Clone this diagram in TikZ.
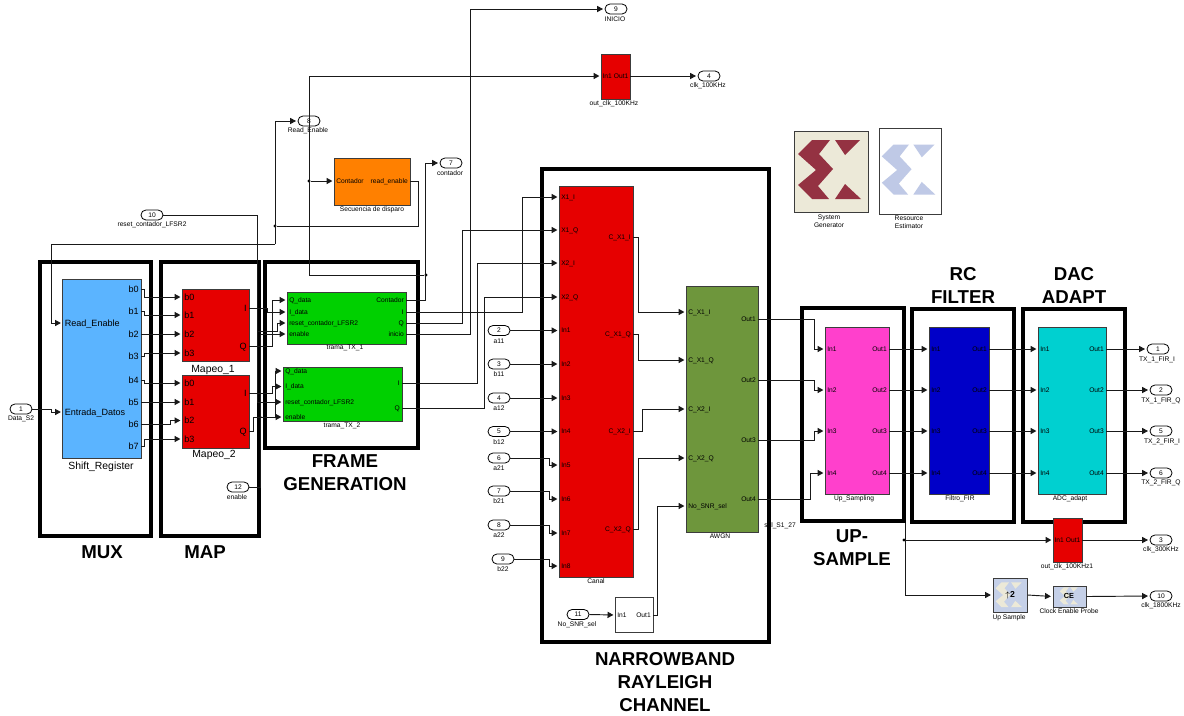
\documentclass[tikz,border=0pt]{standalone}
\usepackage{amsmath}
\usepackage{fontspec}
\setmainfont{Liberation Sans}
\usepackage{tikz}
\usepackage{xcolor}
\usetikzlibrary{positioning, arrows.meta, fit}

\tikzset{
  wire/.style={draw={rgb, 255:red, 25; green, 25; blue, 25 },line width=0.7pt},
  arr/.style={wire,-{Triangle[length=4.4pt,width=4.6pt]},shorten >=1.2pt},
  frameb/.style={draw=black,line width=2.6pt,inner sep=0pt},
  blockb/.style={draw={rgb, 255:red, 60; green, 60; blue, 60 },line width=0.75pt,inner sep=0pt},
  portin/.style={anchor=west,inner xsep=1.5pt,inner ysep=0pt,text height=3.6pt,text depth=0.4pt,font=\fontsize{5}{6}\selectfont},
  portout/.style={anchor=east,inner xsep=1.5pt,inner ysep=0pt,text height=3.6pt,text depth=0.4pt,font=\fontsize{5}{6}\selectfont},
  portinb/.style={portin,text height=5pt,font=\fontsize{6.8}{8}\selectfont},
  portoutb/.style={portout,text height=5pt,font=\fontsize{6.8}{8}\selectfont},
  oval/.style={draw=black,line width=0.6pt,rounded corners=3.7pt,minimum width=16.5pt,minimum height=7.5pt,inner sep=0pt,font=\fontsize{5}{6}\selectfont},
  lbl/.style={inner sep=0pt,font=\fontsize{5}{6}\selectfont},
  lblb/.style={inner sep=0pt,font=\fontsize{7.8}{9}\selectfont},
  title/.style={inner sep=0pt,align=center,font=\fontsize{14}{17.25}\selectfont\bfseries},
  dot/.style={circle,fill=black,inner sep=0pt,minimum size=2.4pt},
  xlogo/.pic={
    \fill [#1] (-18,-29) -- (-1,-29) -- (-12,-16) -- (3,1) -- (-11,16) -- (0,30) -- (-18,30) -- (-32,16) -- (-14,0) -- (-32,-15) -- cycle;
    \fill [#1] (5,-29) -- (31,-29) -- (15,-14) -- cycle;
    \fill [#1] (15,15) -- (30,30) -- (5,30) -- cycle;
  }
}
\definecolor{xred}{RGB}{148,50,66}
\definecolor{xblue}{RGB}{191,201,230}
\definecolor{xcream}{RGB}{236,233,216}
\definecolor{xpale}{RGB}{197,208,232}

\begin{document}
\begin{tikzpicture}[x=0.75pt,y=0.75pt,yscale=-1,xscale=1]
\useasboundingbox (0,0) rectangle (1184,715);

%Group frames
\node (fr_mux) [frameb,fit={(40,262) (151,536)}] {};
\node (fr_map) [frameb,fit={(161,262) (259,536)}] {};
\node (fr_gen) [frameb,fit={(265,262) (418,448)}] {};
\node (fr_chan) [frameb,fit={(542,169) (769,642)}] {};
\node (fr_up) [frameb,fit={(802,308) (904,521)}] {};
\node (fr_fir) [frameb,fit={(912,309) (1014,522)}] {};
\node (fr_dac) [frameb,fit={(1023,309) (1125,522)}] {};

%Blocks
\node (sreg) [blockb,fill={rgb, 255:red, 91; green, 180; blue, 255 },fit={(62.5,279) (141,458)}] {};
\node (map_a) [blockb,fill={rgb, 255:red, 230; green, 0; blue, 0 },fit={(182,289) (249,361)}] {};
\node (map_b) [blockb,fill={rgb, 255:red, 230; green, 0; blue, 0 },fit={(182,375) (249,448)}] {};
\node (tx_a) [blockb,fill={rgb, 255:red, 0; green, 208; blue, 0 },fit={(287,292) (406,344)}] {};
\node (tx_b) [blockb,fill={rgb, 255:red, 0; green, 208; blue, 0 },fit={(283,367) (402,421)}] {};
\node (seq) [blockb,fill={rgb, 255:red, 255; green, 128; blue, 0 },fit={(334,158) (410,205)}] {};
\node (clk_a) [blockb,fill={rgb, 255:red, 230; green, 0; blue, 0 },fit={(601,54) (630,99)}] {};
\node (canal) [blockb,fill={rgb, 255:red, 230; green, 0; blue, 0 },fit={(559,186) (633,577)}] {};
\node (awgn) [blockb,fill={rgb, 255:red, 110; green, 150; blue, 60 },fit={(686,286) (758,532)}] {};
\node (snr) [blockb,fill=white,fit={(615,597) (653,632)}] {};
\node (upsamp) [blockb,fill={rgb, 255:red, 255; green, 64; blue, 204 },fit={(825,327) (889,494)}] {};
\node (fir) [blockb,fill={rgb, 255:red, 0; green, 0; blue, 200 },fit={(929,327) (989,494)}] {};
\node (adc) [blockb,fill={rgb, 255:red, 0; green, 208; blue, 208 },fit={(1038,327) (1106,494)}] {};
\node (clk_b) [blockb,fill={rgb, 255:red, 230; green, 0; blue, 0 },fit={(1053,518) (1082,562)}] {};
\node (xup) [blockb,fill=xpale,fit={(993,578) (1027,612)}] {};
\node (xce) [blockb,fill=xpale,fit={(1053,586) (1086,607)}] {};
\node (sysgen) [blockb,fill=xcream,fit={(794,131) (868,212)}] {};
\node (resest) [blockb,fill=white,fit={(879,128) (941,214)}] {};

%Logos
\pic at (830,170) {xlogo=xred};
\pic [scale=0.85] at (909,170) {xlogo=xblue};
\pic [scale=0.42] at (1009,595) {xlogo=xcream};
\pic [scale=0.29] at (1069,596) {xlogo=xcream};

% Text Node
\node (sr_re) [portinb] at (62.5,323) {Read\_Enable};
\node (sr_ed) [portinb] at (62.5,412) {Entrada\_Datos};
\node (sr_b0) [portoutb] at (141,289) {b0};
\node (sr_b1) [portoutb] at (141,311) {b1};
\node (sr_b2) [portoutb] at (141,334) {b2};
\node (sr_b3) [portoutb] at (141,356) {b3};
\node (sr_b4) [portoutb] at (141,380) {b4};
\node (sr_b5) [portoutb] at (141,402) {b5};
\node (sr_b6) [portoutb] at (141,424) {b6};
\node (sr_b7) [portoutb] at (141,446) {b7};
\node (ma_b0) [portinb] at (182,297) {b0};
\node (ma_b1) [portinb] at (182,315) {b1};
\node (ma_b2) [portinb] at (182,334) {b2};
\node (ma_b3) [portinb] at (182,353) {b3};
\node (ma_i) [portoutb] at (249,308) {I};
\node (ma_q) [portoutb] at (249,346) {Q};
\node (mb_b0) [portinb] at (182,383) {b0};
\node (mb_b1) [portinb] at (182,402) {b1};
\node (mb_b2) [portinb] at (182,420.5) {b2};
\node (mb_b3) [portinb] at (182,439) {b3};
\node (mb_i) [portoutb] at (249,393.5) {I};
\node (mb_q) [portoutb] at (249,431) {Q};
\node (ta_qd) [portin] at (287,300) {Q\_data};
\node (ta_id) [portin] at (287,312) {I\_data};
\node (ta_rs) [portin] at (287,323) {reset\_contador\_LFSR2};
\node (ta_en) [portin] at (287,334) {enable};
\node (ta_co) [portout] at (406,300) {Contador};
\node (ta_i) [portout] at (406,312) {I};
\node (ta_q) [portout] at (406,323) {Q};
\node (ta_in) [portout] at (406,334) {inicio};
\node (tb_qd) [portin] at (283,371) {Q\_data};
\node (tb_id) [portin] at (283,386.5) {I\_data};
\node (tb_rs) [portin] at (283,402) {reset\_contador\_LFSR2};
\node (tb_en) [portin] at (283,417) {enable};
\node (tb_i) [portout] at (402,383) {I};
\node (tb_q) [portout] at (402,408.5) {Q};
\node (sq_co) [portin] at (334,181) {Contador};
\node (sq_re) [portout] at (410,181) {read\_enable};
\node (ca_in) [portin,inner xsep=1pt] at (601,76) {In1};
\node (ca_out) [portout,inner xsep=1pt] at (630,76) {Out1};
\node (cb_in) [portin,inner xsep=1pt] at (1053,540) {In1};
\node (cb_out) [portout,inner xsep=1pt] at (1082,540) {Out1};
\node (cn_x1i) [portin] at (559,197) {X1\_I};
\node (cn_x1q) [portin] at (559,230) {X1\_Q};
\node (cn_x2i) [portin] at (559,263) {X2\_I};
\node (cn_x2q) [portin] at (559,297) {X2\_Q};
\node (cn_in1) [portin] at (559,330.5) {In1};
\node (cn_in2) [portin] at (559,364) {In2};
\node (cn_in3) [portin] at (559,398) {In3};
\node (cn_in4) [portin] at (559,431.5) {In4};
\node (cn_in5) [portin] at (559,465) {In5};
\node (cn_in6) [portin] at (559,499) {In6};
\node (cn_in7) [portin] at (559,533) {In7};
\node (cn_in8) [portin] at (559,566) {In8};
\node (cn_o1) [portout] at (633,237) {C\_X1\_I};
\node (cn_o2) [portout] at (633,334) {C\_X1\_Q};
\node (cn_o3) [portout] at (633,431) {C\_X2\_I};
\node (cn_o4) [portout] at (633,529) {C\_X2\_Q};
\node (aw_i1) [portin] at (686,312) {C\_X1\_I};
\node (aw_i2) [portin] at (686,360) {C\_X1\_Q};
\node (aw_i3) [portin] at (686,409) {C\_X2\_I};
\node (aw_i4) [portin] at (686,458) {C\_X2\_Q};
\node (aw_sn) [portin] at (686,506) {No\_SNR\_sel};
\node (aw_o1) [portout] at (758,319) {Out1};
\node (aw_o2) [portout] at (758,380) {Out2};
\node (aw_o3) [portout] at (758,440) {Out3};
\node (aw_o4) [portout] at (758,499) {Out4};
\node (sn_in) [portin] at (615,615) {In1};
\node (sn_out) [portout] at (653,615) {Out1};
\node (us_i1) [portin] at (825,349) {In1};
\node (us_i2) [portin] at (825,390) {In2};
\node (us_i3) [portin] at (825,431) {In3};
\node (us_i4) [portin] at (825,473) {In4};
\node (us_o1) [portout] at (889,349) {Out1};
\node (us_o2) [portout] at (889,390) {Out2};
\node (us_o3) [portout] at (889,431) {Out3};
\node (us_o4) [portout] at (889,473) {Out4};
\node (fi_i1) [portin] at (929,349) {In1};
\node (fi_i2) [portin] at (929,390) {In2};
\node (fi_i3) [portin] at (929,431) {In3};
\node (fi_i4) [portin] at (929,473) {In4};
\node (fi_o1) [portout] at (989,349) {Out1};
\node (fi_o2) [portout] at (989,390) {Out2};
\node (fi_o3) [portout] at (989,431) {Out3};
\node (fi_o4) [portout] at (989,473) {Out4};
\node (ad_i1) [portin] at (1038,349) {In1};
\node (ad_i2) [portin] at (1038,390) {In2};
\node (ad_i3) [portin] at (1038,431) {In3};
\node (ad_i4) [portin] at (1038,473) {In4};
\node (ad_o1) [portout] at (1106,349) {Out1};
\node (ad_o2) [portout] at (1106,390) {Out2};
\node (ad_o3) [portout] at (1106,431) {Out3};
\node (ad_o4) [portout] at (1106,473) {Out4};
\node (xu_txt) [inner sep=0pt,font=\fontsize{6.5}{8}\selectfont\bfseries] at (1010,595) {$\uparrow$2};
\node (xc_txt) [inner sep=0pt,font=\fontsize{5.5}{7}\selectfont\bfseries] at (1069,596) {CE};

%Ports
\node (in_data) [oval] at (21,409) {1};
\node (in_a11) [oval] at (499,330.5) {2};
\node (in_b11) [oval] at (499,364) {3};
\node (in_a12) [oval] at (499,398) {4};
\node (in_b12) [oval] at (499,431.5) {5};
\node (in_a21) [oval] at (499,458) {6};
\node (in_b21) [oval] at (499,491) {7};
\node (in_a22) [oval] at (499,525) {8};
\node (in_b22) [oval] at (503,559) {9};
\node (in_rst) [oval] at (152,215) {10};
\node (in_snr) [oval] at (578,614.5) {11};
\node (in_en) [oval] at (238,487) {12};
\node (ou_read) [oval] at (309,121) {8};
\node (ou_cont) [oval] at (451,163) {7};
\node (ou_ini) [oval] at (616,9) {9};
\node (ou_c100) [oval] at (709,76) {4};
\node (ou_t1i) [oval] at (1158,349) {1};
\node (ou_t1q) [oval] at (1161,390) {2};
\node (ou_t2i) [oval] at (1161,431) {5};
\node (ou_t2q) [oval] at (1161,473) {6};
\node (ou_c300) [oval] at (1161,540) {3};
\node (ou_c18) [oval] at (1161,596) {10};

%Junctions
\node (jn_seq) [dot] at (309,181) {};
\node (jn_ini) [dot] at (426,275) {};
\node (jn_read) [dot] at (275,226) {};
\node (jn_clk) [dot] at (904,540) {};
\node (jn_en) [dot] at (260,417) {};
\coordinate (rd_c) at (275,244);
\coordinate (rs_c) at (257,331);

% Text Node
\node (lb_sreg) [lblb] at (101,467) {Shift\_Register};
\node (lb_ma) [lblb] at (213,370) {Mapeo\_1};
\node (lb_mb) [lblb] at (214,455) {Mapeo\_2};
\node (lb_ta) [lbl] at (345,348) {trama\_TX\_1};
\node (lb_tb) [lbl] at (342,426) {trama\_TX\_2};
\node (lb_seq) [lbl] at (372,210) {Secuencia de disparo};
\node (lb_ca) [lbl] at (614,104) {out\_clk\_100KHz};
\node (lb_canal) [lbl] at (596,581) {Canal};
\node (lb_awgn) [lbl] at (720,536) {AWGN};
\node (lb_sal) [lbl] at (780,526) {sal\_S1\_27};
\node (lb_us) [lbl] at (854,499) {Up\_Sampling};
\node (lb_fi) [lbl] at (960,499) {Filtro\_FIR};
\node (lb_ad) [lbl] at (1070,499) {ADC\_adapt};
\node (lb_cb) [lbl] at (1067,567) {out\_clk\_100KHz1};
\node (lb_xu) [lbl] at (1009,618) {Up Sample};
\node (lb_xc) [lbl] at (1069,611) {Clock Enable Probe};
\node (lb_sys) [lbl,align=center] at (829,221.5) {System\\Generator};
\node (lb_res) [lbl,align=center] at (909,222.5) {Resource\\Estimator};
\node (lb_data) [lbl] at (21,419) {Data\_S2};
\node (lb_a11) [lbl] at (499,341) {a11};
\node (lb_b11) [lbl] at (499,374.5) {b11};
\node (lb_a12) [lbl] at (499,408) {a12};
\node (lb_b12) [lbl] at (499,442) {b12};
\node (lb_a21) [lbl] at (499,468.5) {a21};
\node (lb_b21) [lbl] at (499,501) {b21};
\node (lb_a22) [lbl] at (499,535.5) {a22};
\node (lb_b22) [lbl] at (503,569) {b22};
\node (lb_rst) [lbl] at (152,225) {reset\_contador\_LFSR2};
\node (lb_snr) [lbl] at (577,625) {No\_SNR\_sel};
\node (lb_en) [lbl] at (237,497) {enable};
\node (lb_read) [lbl] at (308,131) {Read\_Enable};
\node (lb_cont) [lbl] at (450,173) {contador};
\node (lb_ini) [lbl] at (615,19.5) {INICIO};
\node (lb_c100) [lbl] at (708,86) {clk\_100KHz};
\node (lb_t1i) [lbl] at (1157,359.5) {TX\_1\_FIR\_I};
\node (lb_t1q) [lbl] at (1161,400.5) {TX\_1\_FIR\_Q};
\node (lb_t2i) [lbl] at (1162,441.5) {TX\_2\_FIR\_I};
\node (lb_t2q) [lbl] at (1161,482.5) {TX\_2\_FIR\_Q};
\node (lb_c300) [lbl] at (1161,550) {clk\_300KHz};
\node (lb_c18) [lbl] at (1161,606) {clk\_1800KHz};

\node (tt_mux) [title] at (102,552) {MUX};
\node (tt_map) [title] at (205,552) {MAP};
\node (tt_gen) [title] at (345,472.5) {FRAME\\GENERATION};
\node (tt_chan) [title] at (665,682) {NARROWBAND\\RAYLEIGH\\CHANNEL};
\node (tt_up) [title] at (852,547.5) {UP-\\SAMPLE};
\node (tt_fir) [title] at (963,285) {RC\\FILTER};
\node (tt_dac) [title] at (1074,285) {DAC\\ADAPT};

%Straight Lines
\draw [arr] (in_data.east) -- (51,409) |- (sr_ed.west);
\draw [arr] (sr_b0.east) -- (144,289) |- (ma_b0.west);
\draw [arr] (sr_b1.east) -- (144,311) |- (ma_b1.west);
\draw [arr] (sr_b2.east) -- (ma_b2.west);
\draw [arr] (sr_b3.east) -- (144,356) |- (ma_b3.west);
\draw [arr] (sr_b4.east) -- (144,380) |- (mb_b0.west);
\draw [arr] (sr_b5.east) -- (mb_b1.west);
\draw [arr] (sr_b6.east) -- (170,424) |- (mb_b2.west);
\draw [arr] (sr_b7.east) -- (144,446) |- (mb_b3.west);

%Straight Lines
\draw [arr] (ma_i.east) -- (267,308) |- (ta_id.west);
\draw [arr] (ma_q.east) -- (272,346) |- (ta_qd.west);
\draw [arr] (mb_i.east) -- (272,393.5) |- (tb_id.west);
\draw [arr] (mb_q.east) -- (253,431) |- (275,417) |- (tb_qd.west);
\draw [arr] (in_rst.east) -- (257,215) |- (tb_rs.west);
\draw [arr] (rs_c) -- (277,331) |- (ta_rs.west);
\draw [arr] (in_en.east) -- (260,487) |- (ta_en.west);
\draw [arr] (jn_en) -- (tb_en.west);

%Straight Lines
\draw [arr] (rd_c) |- (ou_read.west);
\draw [arr] (rd_c) -- (51,244) |- (sr_re.west);
\draw [wire] (sq_re.east) -- (418,181) |- (jn_read);
\draw [arr] (jn_seq) -- (sq_co.west);
\draw [arr] (jn_ini) -- (309,275) |- (ca_in.west);
\draw [arr] (ca_out.east) -- (ou_c100.west);
\draw [arr] (ta_co.east) -- (425,300) |- (ou_cont.west);
\draw [arr] (ta_in.east) -- (470,334) |- (ou_ini.west);

%Straight Lines
\draw [arr] (ta_i.east) -- (522,312) |- (cn_x1i.west);
\draw [arr] (ta_q.east) -- (462,323) |- (cn_x1q.west);
\draw [arr] (tb_i.east) -- (477,383) |- (cn_x2i.west);
\draw [arr] (tb_q.east) -- (484,408.5) |- (cn_x2q.west);
\draw [arr] (in_a11.east) -- (cn_in1.west);
\draw [arr] (in_b11.east) -- (cn_in2.west);
\draw [arr] (in_a12.east) -- (cn_in3.west);
\draw [arr] (in_b12.east) -- (cn_in4.west);
\draw [arr] (in_a21.east) -- (549,458) |- (cn_in5.west);
\draw [arr] (in_b21.east) -- (549,491) |- (cn_in6.west);
\draw [arr] (in_a22.east) -- (549,525) |- (cn_in7.west);
\draw [arr] (in_b22.east) -- (549,559) |- (cn_in8.west);

%Straight Lines
\draw [arr] (cn_o1.east) -- (638,237) |- (aw_i1.west);
\draw [arr] (cn_o2.east) -- (638,334) |- (aw_i2.west);
\draw [arr] (cn_o3.east) -- (642,431) |- (aw_i3.west);
\draw [arr] (cn_o4.east) -- (638,529) |- (aw_i4.west);
\draw [arr] (in_snr.east) -- (sn_in.west);
\draw [arr] (sn_out.east) -- (657,615) |- (aw_sn.west);
\draw [arr] (aw_o1.east) -- (814,319) |- (us_i1.west);
\draw [arr] (aw_o2.east) -- (814,380) |- (us_i2.west);
\draw [arr] (aw_o3.east) -- (814,440) |- (us_i3.west);
\draw [arr] (aw_o4.east) -- (810,499) |- (us_i4.west);

%Straight Lines
\draw [arr] (us_o1.east) -- (fi_i1.west);
\draw [arr] (us_o2.east) -- (fi_i2.west);
\draw [arr] (us_o3.east) -- (fi_i3.west);
\draw [arr] (us_o4.east) -- (fi_i4.west);
\draw [arr] (fi_o1.east) -- (ad_i1.west);
\draw [arr] (fi_o2.east) -- (ad_i2.west);
\draw [arr] (fi_o3.east) -- (ad_i3.west);
\draw [arr] (fi_o4.east) -- (ad_i4.west);
\draw [arr] (ad_o1.east) -- (ou_t1i.west);
\draw [arr] (ad_o2.east) -- (ou_t1q.west);
\draw [arr] (ad_o3.east) -- (ou_t2i.west);
\draw [arr] (ad_o4.east) -- (ou_t2q.west);

%Straight Lines
\draw [arr] (jn_clk) -- (cb_in.west);
\draw [arr] (fr_up.south east) |- (xup.west);
\draw [arr] (xup.east) -- (xce.west);
\draw [arr] (xce.east) -- (ou_c18.west);
\draw [arr] (cb_out.east) -- (ou_c300.west);

\end{tikzpicture}
\end{document}
